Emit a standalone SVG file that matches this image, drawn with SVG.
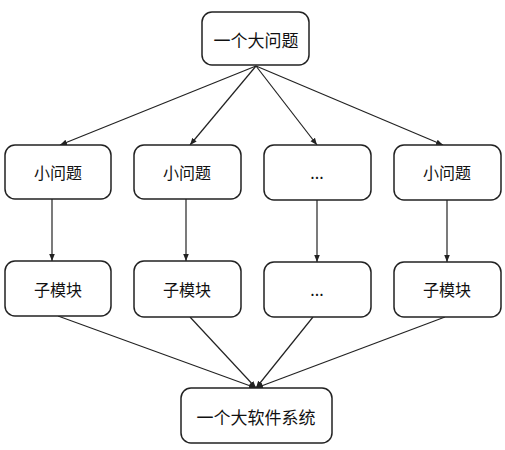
<svg xmlns="http://www.w3.org/2000/svg" width="505" height="450" viewBox="0 0 505 450">
<defs>
<marker id="ah" viewBox="0 0 10 10" refX="10" refY="5" markerWidth="7" markerHeight="7" orient="auto" markerUnits="userSpaceOnUse">
<path d="M0,1 L10,5 L0,9 Z" fill="#222"/>
</marker>
<style>
.box{fill:#fff;stroke:#222;stroke-width:1.5}
.t{font-family:"Noto Sans CJK SC","Liberation Sans",sans-serif;font-size:16px;fill:#111;text-anchor:middle;dominant-baseline:central}
.tb{font-size:17px}
.c{stroke:#222;stroke-width:1.2;fill:none;marker-end:url(#ah)}
</style>
</defs>
<rect width="505" height="450" fill="#fff"/>
<g id="connectors">
<line class="c" x1="256" y1="66" x2="60" y2="145"/>
<line class="c" x1="256" y1="66" x2="190" y2="145"/>
<line class="c" x1="256" y1="66" x2="317" y2="145"/>
<line class="c" x1="256" y1="66" x2="443" y2="145"/>
<line class="c" x1="52" y1="199" x2="52" y2="261"/>
<line class="c" x1="186" y1="199" x2="186" y2="261"/>
<line class="c" x1="317" y1="200" x2="317" y2="262"/>
<line class="c" x1="447" y1="200" x2="447" y2="262"/>
<line class="c" x1="58" y1="316" x2="256" y2="388"/>
<line class="c" x1="190" y1="317" x2="256" y2="388"/>
<line class="c" x1="313" y1="317" x2="256" y2="388"/>
<line class="c" x1="445" y1="317" x2="256" y2="388"/>
</g>
<g id="n-top"><rect class="box" x="202" y="12" width="107" height="53" rx="10"/><text class="t tb" x="256" y="39">一个大问题</text></g>
<g id="n-p1"><rect class="box" x="5" y="145" width="106" height="54" rx="10"/><text class="t" x="58" y="172">小问题</text></g>
<g id="n-p2"><rect class="box" x="134" y="145" width="107" height="54" rx="10"/><text class="t" x="187" y="172">小问题</text></g>
<g id="n-p3"><rect class="box" x="264" y="145" width="107" height="55" rx="10"/><text class="t" x="317" y="172">...</text></g>
<g id="n-p4"><rect class="box" x="394" y="145" width="107" height="55" rx="10"/><text class="t" x="447" y="172">小问题</text></g>
<g id="n-m1"><rect class="box" x="5" y="261" width="106" height="55" rx="10"/><text class="t" x="58" y="289">子模块</text></g>
<g id="n-m2"><rect class="box" x="134" y="261" width="107" height="56" rx="10"/><text class="t" x="187" y="289">子模块</text></g>
<g id="n-m3"><rect class="box" x="264" y="262" width="107" height="55" rx="10"/><text class="t" x="317" y="289">...</text></g>
<g id="n-m4"><rect class="box" x="394" y="262" width="107" height="55" rx="10"/><text class="t" x="447" y="289">子模块</text></g>
<g id="n-bottom"><rect class="box" x="181" y="388" width="151" height="55" rx="10"/><text class="t tb" x="256" y="416">一个大软件系统</text></g>
</svg>
